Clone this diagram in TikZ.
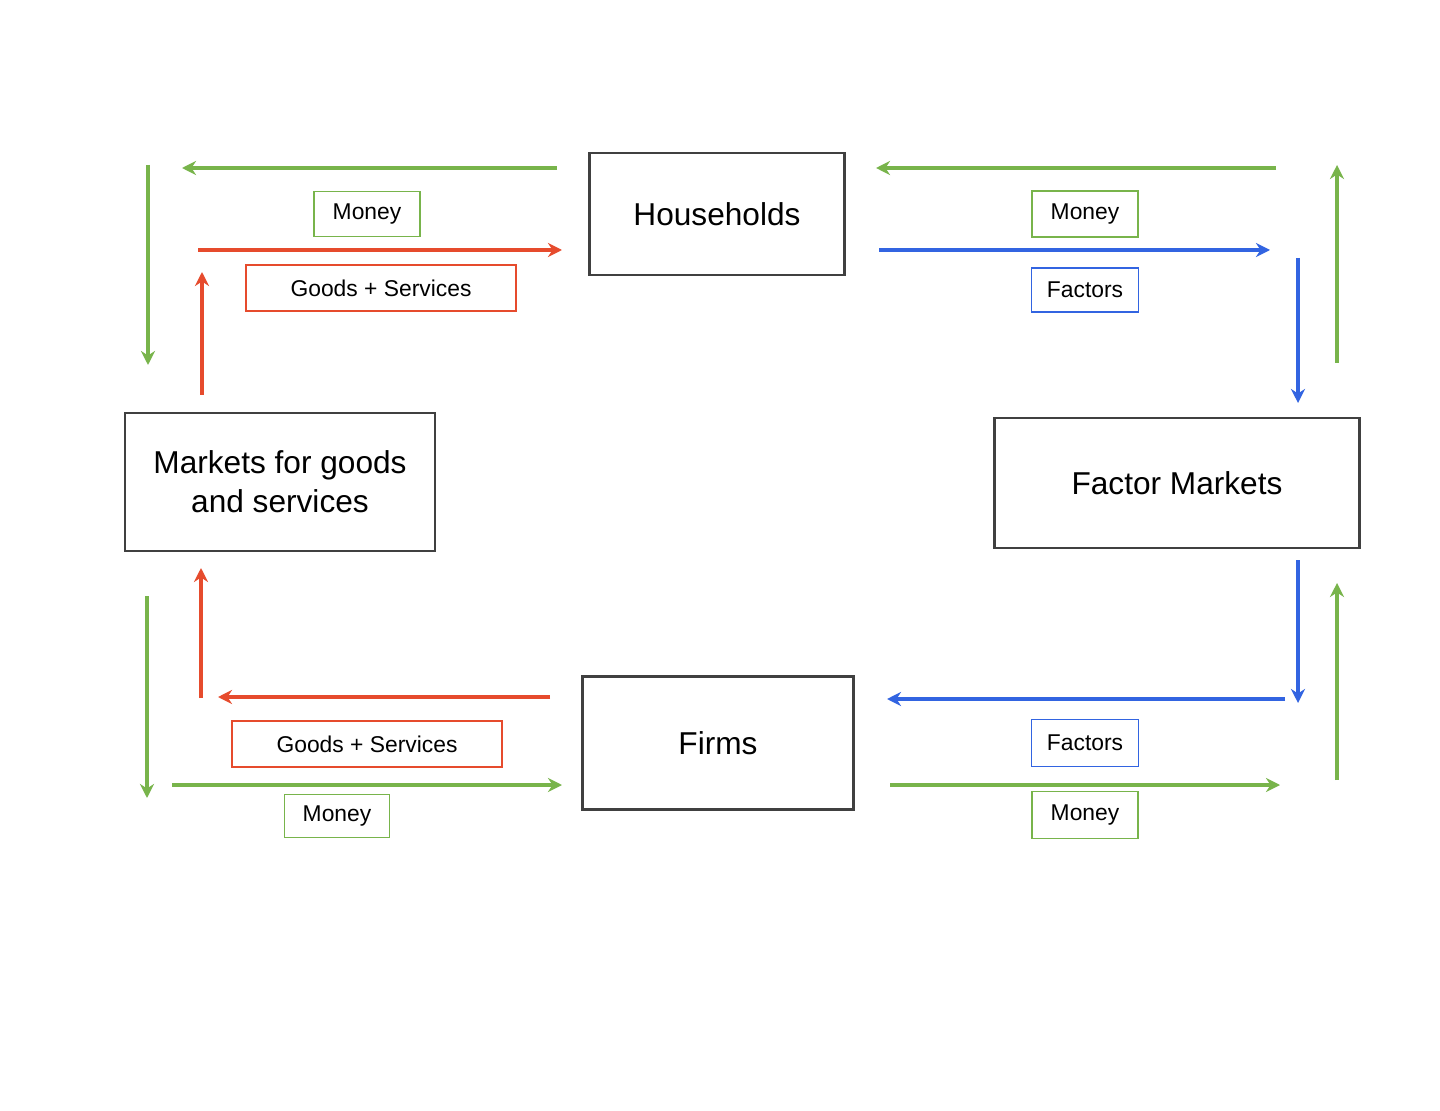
\documentclass[tikz,border=0pt]{standalone}
\usepackage{fontspec}
\setmainfont{Liberation Sans}
\usetikzlibrary{arrows.meta}
\definecolor{gr}{RGB}{120,180,75}
\definecolor{rd}{RGB}{230,75,45}
\definecolor{bl}{RGB}{50,100,225}
\begin{document}
\begin{tikzpicture}[x=0.02cm,y=-0.02cm,
  mainbox/.style={draw=black!75,line width=1.3pt,align=center,font=\fontsize{18}{22}\selectfont,inner sep=0pt},
  lab/.style={draw=#1,line width=1pt,font=\fontsize{13}{16}\selectfont,inner sep=0pt},
  flow/.style={draw=#1,line width=1.8pt,-{Stealth[length=8pt,width=8pt]}}]
\useasboundingbox (0,0) rectangle (1440,1111);
\fill[white] (0,0) rectangle (1440,1111);
\node[mainbox,minimum width=255*0.02cm,minimum height=122*0.02cm] (hh) at (717,214) {Households};
\node[mainbox,minimum width=310*0.02cm,minimum height=138*0.02cm] (mk) at (280,482) {Markets for goods\\and services};
\node[mainbox,minimum width=365*0.02cm,minimum height=130*0.02cm] (fm) at (1177,483) {Factor Markets};
\node[mainbox,minimum width=271*0.02cm,minimum height=133*0.02cm] (fi) at (718,743) {Firms};
\foreach \n/\x/\y/\w/\h/\c/\t in {l1/367/214/106/45/gr/Money, l2/381/288/270/46/rd/Goods + Services,
  l3/1085/214/106/46/gr/Money, l4/1085/290/107/44/bl/Factors,
  l5/367/744/270/46/rd/Goods + Services, l6/337/816/105/43/gr/Money,
  l7/1085/743/107/47/bl/Factors, l8/1085/815/106/47/gr/Money}
  \node[lab=\c,minimum width=\w*0.02cm,minimum height=\h*0.02cm] (\n) at (\x,\y) {\t};
\foreach \n/\x/\y in {a1/557/168, a2/182/168, b1/148/165, b2/148/365, c1/198/250, c2/562/250,
  d1/202/395, d2/202/272, e1/1276/168, e2/876/168, f1/1337/363, f2/1337/165,
  g1/879/250, g2/1270/250, h1/1298/258, h2/1298/403, i1/550/697, i2/218/697,
  j1/201/698, j2/201/568, k1/147/596, k2/147/798, m1/172/785, m2/562/785,
  n1/1298/560, n2/1298/703, o1/1285/699, o2/887/699, p1/890/785, p2/1280/785,
  q1/1337/780, q2/1337/583}
  \coordinate (\n) at (\x,\y);
\draw[flow=gr] (a1) -- (a2);
\draw[flow=gr] (b1) -- (b2);
\draw[flow=rd] (c1) -- (c2);
\draw[flow=rd] (d1) -- (d2);
\draw[flow=gr] (e1) -- (e2);
\draw[flow=gr] (f1) -- (f2);
\draw[flow=bl] (g1) -- (g2);
\draw[flow=bl] (h1) -- (h2);
\draw[flow=rd] (i1) -- (i2);
\draw[flow=rd] (j1) -- (j2);
\draw[flow=gr] (k1) -- (k2);
\draw[flow=gr] (m1) -- (m2);
\draw[flow=bl] (n1) -- (n2);
\draw[flow=bl] (o1) -- (o2);
\draw[flow=gr] (p1) -- (p2);
\draw[flow=gr] (q1) -- (q2);
\end{tikzpicture}
\end{document}
